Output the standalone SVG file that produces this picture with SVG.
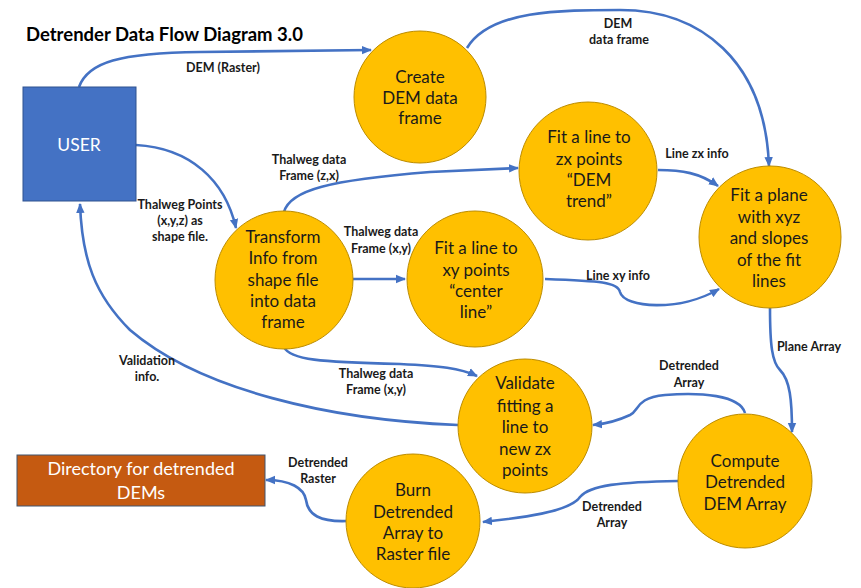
<svg xmlns="http://www.w3.org/2000/svg" width="861" height="588" viewBox="0 0 861 588">
  <defs>
    <marker id="arrow" markerUnits="userSpaceOnUse" markerWidth="10" markerHeight="10" viewBox="0 0 10 10" refX="9" refY="5" orient="auto">
      <path d="M0,0.8 L10,5 L0,9.2 z" fill="#4472C4"/>
    </marker>
  </defs>
  <style>
    .proc { fill: #FFC000; stroke: #BC8C00; stroke-width: 1; }
    .ptext { font-family: Lato, Carlito, "Liberation Sans", sans-serif; font-size: 17px; fill: #1a1a1a; text-anchor: middle; }
    .lbl { font-family: Lato, Carlito, "Liberation Sans", sans-serif; font-size: 12.5px; font-weight: bold; fill: #1a1a1a; text-anchor: middle; }
    .flow { fill: none; stroke: #4472C4; stroke-width: 2.6; marker-end: url(#arrow); }
    .boxtext { font-family: Lato, Carlito, "Liberation Sans", sans-serif; fill: #ffffff; text-anchor: middle; }
  </style>
  <rect width="861" height="588" fill="#ffffff"/>

  <text x="26" y="41" font-family="Lato, Carlito, 'Liberation Sans', sans-serif" font-size="18.5" font-weight="bold" fill="#000">Detrender Data Flow Diagram 3.0</text>

  <!-- connectors -->
  <g id="connectors">
    <path class="flow" d="M79,87 C88,62 120,53 200,52 L371,50"/>
    <path class="flow" d="M467,48 C490,10 560,10 620,10 C700,10 765,60 769,166"/>
    <path class="flow" d="M284,212 C290,190 330,180 430,172 L518,168"/>
    <path class="flow" d="M658,170 C682,170 700,173 718,186"/>
    <path class="flow" d="M136,145 C190,148 225,180 236,228"/>
    <path class="flow" d="M353,279 L405,279"/>
    <path class="flow" d="M545,279 C600,281 618,282 620,292 C624,308 680,312 719,289"/>
    <path class="flow" d="M770,308 C770,345 772,362 780,370 C790,380 792,400 792,432"/>
    <path class="flow" d="M745,413 C740,395 700,392 665,395 C635,398 640,410 630,415 C615,422 605,424 593,425"/>
    <path class="flow" d="M284,347 C290,360 320,362 400,364 C440,366 460,368 477,376"/>
    <path class="flow" d="M458,425 C330,420 200,390 130,330 C95,295 82,260 80,204"/>
    <path class="flow" d="M678,481 C620,482 590,485 580,497 C570,512 520,518 483,522"/>
    <path class="flow" d="M347,521 C320,522 308,515 306,500 C304,488 290,480 266,480"/>

    <text class="lbl" x="223" y="72">DEM (Raster)</text>
    <text class="lbl" x="618" y="28">DEM</text>
    <text class="lbl" x="619" y="44">data frame</text>
    <text class="lbl" x="309" y="164">Thalweg data</text>
    <text class="lbl" x="309" y="180">Frame (z,x)</text>
    <text class="lbl" x="697" y="158">Line zx info</text>
    <text class="lbl" x="180" y="209">Thalweg Points</text>
    <text class="lbl" x="180" y="225">(x,y,z) as</text>
    <text class="lbl" x="180" y="241">shape file.</text>
    <text class="lbl" x="381" y="236">Thalweg data</text>
    <text class="lbl" x="381" y="253">Frame (x,y)</text>
    <text class="lbl" x="618" y="280">Line xy info</text>
    <text class="lbl" x="809" y="351">Plane Array</text>
    <text class="lbl" x="147" y="365">Validation</text>
    <text class="lbl" x="147" y="381">info.</text>
    <text class="lbl" x="376" y="378">Thalweg data</text>
    <text class="lbl" x="376" y="394">Frame (x,y)</text>
    <text class="lbl" x="689" y="370">Detrended</text>
    <text class="lbl" x="689" y="387">Array</text>
    <text class="lbl" x="318" y="467">Detrended</text>
    <text class="lbl" x="318" y="483">Raster</text>
    <text class="lbl" x="612" y="511">Detrended</text>
    <text class="lbl" x="612" y="527">Array</text>
  </g>

  <!-- external entities -->
  <g id="user">
    <rect x="23" y="87" width="113" height="114" fill="#4472C4" stroke="#2F528F" stroke-width="1"/>
    <text class="boxtext" x="79" y="151" font-size="17.5">USER</text>
  </g>
  <g id="directory">
    <rect x="17" y="455" width="248" height="51" fill="#C55A11" stroke="#41546F" stroke-width="1"/>
    <text class="boxtext" x="141" y="475" font-size="18">Directory for detrended</text>
    <text class="boxtext" x="141" y="499" font-size="18">DEMs</text>
  </g>

  <!-- processes -->
  <g id="create-dem">
    <circle class="proc" cx="420" cy="97" r="66"/>
    <text class="ptext" x="420" y="83">Create</text>
    <text class="ptext" x="420" y="104">DEM data</text>
    <text class="ptext" x="420" y="124">frame</text>
  </g>
  <g id="fit-zx">
    <circle class="proc" cx="588" cy="171" r="69"/>
    <text class="ptext" x="589" y="143">Fit a line to</text>
    <text class="ptext" x="589" y="165">zx points</text>
    <text class="ptext" x="589" y="186">“DEM</text>
    <text class="ptext" x="589" y="207">trend”</text>
  </g>
  <g id="fit-plane">
    <circle class="proc" cx="770" cy="237" r="71"/>
    <text class="ptext" x="769" y="201">Fit a plane</text>
    <text class="ptext" x="769" y="223">with xyz</text>
    <text class="ptext" x="769" y="244">and slopes</text>
    <text class="ptext" x="769" y="266">of the fit</text>
    <text class="ptext" x="769" y="287">lines</text>
  </g>
  <g id="transform">
    <circle class="proc" cx="284" cy="280" r="69"/>
    <text class="ptext" x="283" y="243">Transform</text>
    <text class="ptext" x="283" y="264">Info from</text>
    <text class="ptext" x="283" y="286">shape file</text>
    <text class="ptext" x="283" y="307">into data</text>
    <text class="ptext" x="283" y="328">frame</text>
  </g>
  <g id="fit-xy">
    <circle class="proc" cx="475" cy="279" r="68"/>
    <text class="ptext" x="476" y="254">Fit a line to</text>
    <text class="ptext" x="476" y="276">xy points</text>
    <text class="ptext" x="476" y="297">“center</text>
    <text class="ptext" x="476" y="318">line”</text>
  </g>
  <g id="validate">
    <circle class="proc" cx="525" cy="426" r="67"/>
    <text class="ptext" x="525" y="389">Validate</text>
    <text class="ptext" x="525" y="412">fitting a</text>
    <text class="ptext" x="525" y="433">line to</text>
    <text class="ptext" x="525" y="455">new zx</text>
    <text class="ptext" x="525" y="476">points</text>
  </g>
  <g id="compute">
    <circle class="proc" cx="745" cy="481" r="67"/>
    <text class="ptext" x="745" y="467">Compute</text>
    <text class="ptext" x="745" y="488">Detrended</text>
    <text class="ptext" x="745" y="510">DEM Array</text>
  </g>
  <g id="burn">
    <circle class="proc" cx="413" cy="521" r="67"/>
    <text class="ptext" x="413" y="496">Burn</text>
    <text class="ptext" x="413" y="518">Detrended</text>
    <text class="ptext" x="413" y="539">Array to</text>
    <text class="ptext" x="413" y="560">Raster file</text>
  </g>
</svg>
